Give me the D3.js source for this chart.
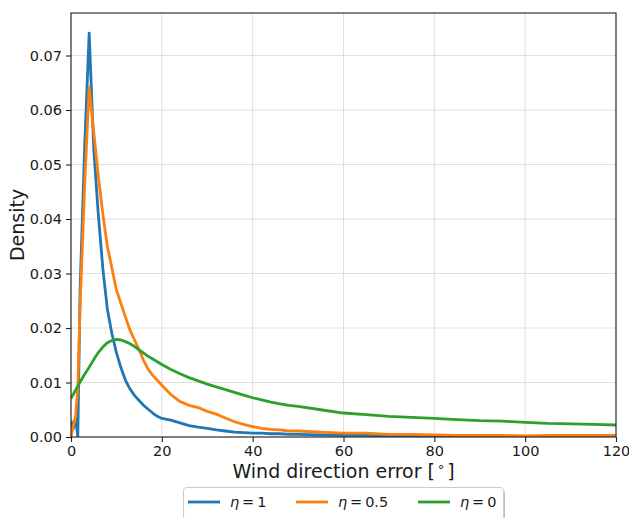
<!DOCTYPE html>
<html><head><meta charset="utf-8">
<script src="https://cdn.jsdelivr.net/npm/d3@7"></script>
<style>
body{margin:0;background:#fff;}
svg{display:block;font-family:"DejaVu Sans",sans-serif;}
</style></head>
<body>
<svg id="chart" width="629" height="518"></svg>
<script>
// Shared x grid (wind direction error, degrees)
const errDeg = [0,0.5,1,1.5,2,3,4,5,6,7,8,9,10,11,12,13,14,15,16,17,18,19,20,22,24,26,28,30,32,34,36,38,40,42,44,46,48,50,55,60,65,70,75,80,85,90,95,100,105,110,115,120];
// eta = 1
const densEta1 = [0.003,0.0015,0.0035,0.0,0.027,0.053,0.0741,0.053,0.041,0.031,0.0235,0.019,0.0155,0.0127,0.0104,0.0088,0.0076,0.0067,0.0058,0.0051,0.0044,0.0038,0.0034,0.0031,0.0026,0.0021,0.0018,0.0016,0.0013,0.0011,0.0009,0.0008,0.0007,0.0007,0.0006,0.0006,0.0005,0.0005,0.0004,0.0003,0.0003,0.0002,0.0002,0.0002,0.0001,0.0001,0.0001,0.0001,0.0001,0.0001,0.0001,0.0001];
// eta = 0.5
const densEta05 = [0.0,0.002,0.0037,0.009,0.024,0.046,0.0642,0.056,0.048,0.041,0.035,0.031,0.027,0.0245,0.022,0.0196,0.0178,0.016,0.014,0.0124,0.0113,0.0104,0.0095,0.0078,0.0065,0.0058,0.0054,0.0047,0.0042,0.0035,0.0028,0.0023,0.0019,0.0016,0.0014,0.0013,0.0011,0.0011,0.0009,0.0007,0.0007,0.0005,0.0005,0.0004,0.0003,0.0003,0.0003,0.0002,0.0003,0.0003,0.0003,0.0003];
// eta = 0
const densEta0 = [0.0071,0.0078,0.0086,0.0093,0.0101,0.0115,0.0128,0.0142,0.0155,0.0165,0.0173,0.0177,0.0179,0.0178,0.0175,0.0171,0.0166,0.0160,0.0154,0.0148,0.0143,0.0138,0.0133,0.0124,0.0116,0.0109,0.0103,0.0097,0.0092,0.0087,0.0082,0.0077,0.0072,0.0068,0.0064,0.0061,0.0058,0.0056,0.0050,0.0044,0.0041,0.0038,0.0036,0.0034,0.0032,0.0030,0.0029,0.0027,0.0025,0.0024,0.0023,0.0022];

const seriesNames = ["η = 1","η = 0.5","η = 0"];
const seriesColors = ["#1f77b4","#ff7f0e","#2ca02c"];
const xTicks = [0,20,40,60,80,100,120];
const yTicks = [0,0.01,0.02,0.03,0.04,0.05,0.06,0.07];

const svg = d3.select("#chart");
const L=71, R=616, T=13, B=437;
const x = d3.scaleLinear().domain([0,120]).range([L,R]);
const y = d3.scaleLinear().domain([0,0.0778]).range([B,T]);

// grid
const grid = svg.append("g");
grid.selectAll(".gx").data(xTicks).join("line")
  .attr("x1",d=>x(d)).attr("x2",d=>x(d)).attr("y1",T).attr("y2",B)
  .attr("stroke","#b0b0b0").attr("stroke-opacity",0.4).attr("stroke-width",1);
grid.selectAll(".gy").data(yTicks).join("line")
  .attr("y1",d=>y(d)).attr("y2",d=>y(d)).attr("x1",L).attr("x2",R)
  .attr("stroke","#b0b0b0").attr("stroke-opacity",0.4).attr("stroke-width",1);

svg.append("clipPath").attr("id","clip").append("rect")
  .attr("x",L).attr("y",T).attr("width",R-L).attr("height",B-T);

const allSeries = [densEta1,densEta05,densEta0];
const line = d3.line().x((d,i)=>x(errDeg[i])).y(d=>y(d));
svg.append("g").attr("clip-path","url(#clip)")
  .selectAll("path").data(allSeries).join("path")
  .attr("d",d=>line(d)).attr("fill","none")
  .attr("stroke",(d,i)=>seriesColors[i]).attr("stroke-width",2.8)
  .attr("stroke-linejoin","round").attr("stroke-linecap","butt");

// axes
const xAxis = d3.axisBottom(x).tickValues(xTicks).tickSize(5).tickPadding(4).tickFormat(d3.format("d"));
const yAxis = d3.axisLeft(y).tickValues(yTicks).tickSize(5).tickPadding(4).tickFormat(d3.format(".2f"));
const gx = svg.append("g").attr("transform",`translate(0,${B})`).call(xAxis);
const gy = svg.append("g").attr("transform",`translate(${L},0)`).call(yAxis);
[gx,gy].forEach(g=>{
  g.select(".domain").remove();
  g.selectAll("line").attr("stroke","#222").attr("stroke-width",1.1);
  g.selectAll("text").attr("font-size",14.5).attr("fill","#1a1a1a").attr("font-family","DejaVu Sans");
});
// frame
svg.append("rect").attr("x",L).attr("y",T).attr("width",R-L).attr("height",B-T)
  .attr("fill","none").attr("stroke","#222").attr("stroke-width",1.1);

// axis labels
const xl = svg.append("text").attr("x",(L+R)/2).attr("y",478).attr("text-anchor","middle")
  .attr("font-size",19).attr("fill","#1a1a1a");
xl.append("tspan").text("Wind direction error [");
xl.append("tspan").attr("font-size",13).attr("dy",-7).attr("dx",2).text("∘");
xl.append("tspan").attr("dy",7).attr("dx",2).text("]");
svg.append("text").attr("transform",`translate(24,${(T+B)/2}) rotate(-90)`)
  .attr("text-anchor","middle").attr("font-size",19).attr("fill","#1a1a1a").text("Density");

// legend
const lg = svg.append("g");
lg.append("rect").attr("x",185).attr("y",490).attr("width",320).attr("height",32).attr("rx",3)
  .attr("fill","#000").attr("fill-opacity",0.25);
lg.append("rect").attr("x",183.5).attr("y",487.5).attr("width",320).attr("height",32).attr("rx",3)
  .attr("fill","#fff").attr("stroke","#cccccc").attr("stroke-width",1);
const legX = [188,296,418];
seriesNames.forEach((n,i)=>{
  lg.append("line").attr("x1",legX[i]).attr("x2",legX[i]+32).attr("y1",502).attr("y2",502)
    .attr("stroke",seriesColors[i]).attr("stroke-width",2.8);
  const parts = n.split(" = ");
  const t = lg.append("text").attr("x",legX[i]+42).attr("y",507).attr("font-size",14.5).attr("fill","#1a1a1a");
  t.append("tspan").attr("font-style","italic").text(parts[0]);
  t.append("tspan").text("\u2009=\u2009"+parts[1]);
});
</script>
</body></html>
